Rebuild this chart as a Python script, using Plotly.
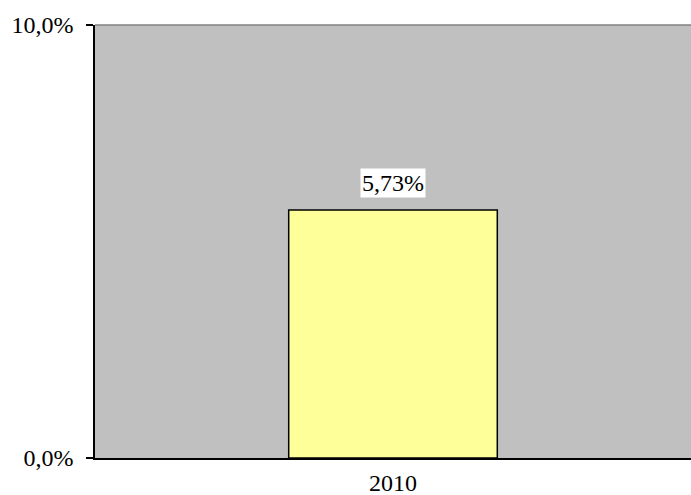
import plotly.graph_objects as go

categories = ["2010"]
values = [0.0573]
label_texts = ["5,73%"]
y_tick_vals = [0.0, 0.1]
y_tick_text = ["0,0%", "10,0%"]

FONT = "Liberation Serif"
FS = 24

xpos = list(range(len(categories)))

fig = go.Figure()
fig.add_trace(go.Bar(
    x=xpos, y=values,
    marker=dict(color="#FFFF99", line=dict(color="black", width=1.5)),
    width=0.35,
    hoverinfo="skip",
))

for xp, v, t in zip(xpos, values, label_texts):
    fig.add_annotation(
        x=xp, y=v, text=t, showarrow=False, yanchor="bottom", yshift=12,
        bgcolor="white", font=dict(family=FONT, size=FS, color="black"),
        borderpad=1,
    )

fig.add_shape(type="line", xref="paper", yref="paper", x0=0, x1=1, y0=1, y1=1,
              line=dict(color="#808080", width=1.5))

fig.update_layout(
    width=691, height=495,
    margin=dict(l=95, r=0, t=25, b=37, autoexpand=False),
    paper_bgcolor="white", plot_bgcolor="#C0C0C0",
    showlegend=False,
    font=dict(family=FONT, size=FS, color="black"),
)
fig.update_xaxes(
    type="linear", range=[-0.5, len(categories) - 0.5],
    tickvals=xpos, ticktext=categories,
    showline=True, linecolor="black", linewidth=2,
    showgrid=False, zeroline=False, ticks="", tickfont=dict(family=FONT, size=FS),
    ticklabelstandoff=2,
)
fig.update_yaxes(
    range=[0, 0.1], tickvals=y_tick_vals, ticktext=y_tick_text,
    showline=True, linecolor="black", linewidth=1.5,
    ticks="outside", ticklen=7, tickcolor="black", tickwidth=1.5,
    showgrid=False, zeroline=False, tickfont=dict(family=FONT, size=FS),
    ticklabelstandoff=8,
)

fig.write_html(
    "out.html",
    config={"displayModeBar": False},
    post_script="document.body.style.margin='0';document.body.style.overflow='hidden';",
)
